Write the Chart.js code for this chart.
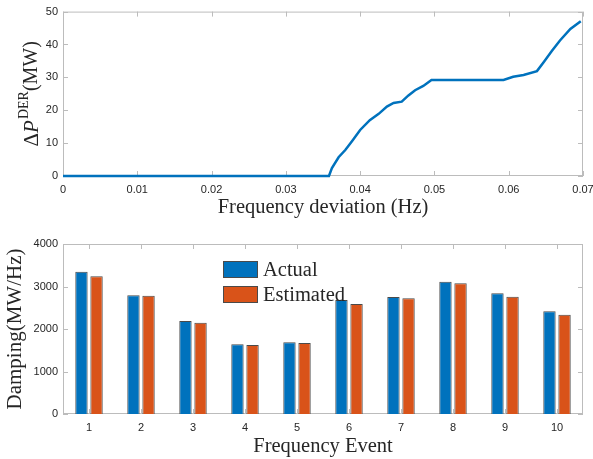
<!DOCTYPE html>
<html>
<head>
<meta charset="utf-8">
<script src="https://cdn.jsdelivr.net/npm/chart.js@4"></script>
<style>
  body { margin: 0; background: #fff; }
  canvas { position: absolute; left: 0; }
  #curveChart { top: 0; }
  #dampingChart { top: 230px; }
</style>
</head>
<body>
<canvas id="curveChart" width="593" height="228"></canvas>
<canvas id="dampingChart" width="593" height="229"></canvas>
<script>
// Top panel: DER power response vs frequency deviation
const freqDev = [0, 0.0358, 0.0362, 0.0371, 0.0380, 0.0389, 0.0400, 0.0413, 0.0425, 0.0436,
                 0.0445, 0.0456, 0.0465, 0.0474, 0.0485, 0.0496, 0.0593, 0.0606, 0.0620,
                 0.0638, 0.0647, 0.0658, 0.0669, 0.0683, 0.0697];
const deltaP = [0, 0, 2.4, 5.7, 7.9, 10.6, 14.0, 17.0, 18.9, 21.1,
                22.2, 22.6, 24.5, 26.1, 27.4, 29.2, 29.2, 30.2, 30.7,
                31.9, 34.6, 38.0, 41.2, 44.7, 47.1];

// Bottom panel: damping per frequency event
const events = ['1', '2', '3', '4', '5', '6', '7', '8', '9', '10'];
const actualDamping = [3348, 2795, 2188, 1639, 1686, 2682, 2753, 3114, 2839, 2416];
const estimatedDamping = [3240, 2784, 2149, 1623, 1670, 2588, 2722, 3075, 2761, 2337];

const SERIF = "'Liberation Serif', 'Times New Roman', serif";
const SANS = "'Liberation Sans', Arial, sans-serif";
const FRAME = '#bcbcbc';
const TEXT = '#262626';

// draw a run of text pieces (different fonts / raised parts) centred on cx,cy
function drawRich(ctx, parts, cx, cy, rotate) {
    ctx.save();
    ctx.translate(cx, cy);
    if (rotate) ctx.rotate(-Math.PI / 2);
    ctx.fillStyle = TEXT;
    ctx.textBaseline = 'middle';
    ctx.textAlign = 'left';
    let total = 0;
    parts.forEach(p => { ctx.font = p.font; total += ctx.measureText(p.text).width + (p.gap || 0); });
    let x = -total / 2;
    parts.forEach(p => {
        ctx.font = p.font;
        ctx.fillText(p.text, x, p.dy || 0);
        x += ctx.measureText(p.text).width + (p.gap || 0);
    });
    ctx.restore();
}

// MATLAB-like box with inward ticks, axis titles and an inside legend
const matlabAxes = {
    id: 'matlabAxes',
    beforeDatasetsDraw(chart, args, opts) {
        const { ctx, chartArea: a, scales } = chart;
        const line = (x1, y1, x2, y2) => { ctx.beginPath(); ctx.moveTo(x1, y1); ctx.lineTo(x2, y2); ctx.stroke(); };
        ctx.save();
        ctx.strokeStyle = FRAME;
        ctx.lineWidth = 1;
        ctx.strokeRect(a.left + 0.5, a.top + 0.5, a.width - 1, a.height - 1);
        scales.x.ticks.forEach((t, i) => {
            const px = Math.round(scales.x.getPixelForTick(i)) + 0.5;
            line(px, a.bottom, px, a.bottom - 5);
            line(px, a.top, px, a.top + 5);
        });
        scales.y.ticks.forEach((t, i) => {
            const py = Math.round(scales.y.getPixelForTick(i)) + 0.5;
            line(a.left, py, a.left + 5, py);
            line(a.right, py, a.right - 5, py);
        });
        ctx.restore();
    },
    afterDraw(chart, args, opts) {
        const { ctx, chartArea: a } = chart;
        if (opts.xTitle) drawRich(ctx, opts.xTitle, (a.left + a.right) / 2, opts.xTitleY, false);
        if (opts.yTitle) drawRich(ctx, opts.yTitle, opts.yTitleX, (a.top + a.bottom) / 2, true);
        if (opts.legend) {
            const lg = opts.legend;
            ctx.save();
            chart.data.datasets.forEach((ds, i) => {
                const y = lg.y + i * lg.step;
                ctx.fillStyle = ds.backgroundColor;
                ctx.fillRect(lg.x, y, lg.w, lg.h);
                ctx.strokeStyle = ds.borderColor;
                ctx.lineWidth = 1;
                ctx.strokeRect(lg.x + 0.5, y + 0.5, lg.w - 1, lg.h - 1);
                ctx.fillStyle = TEXT;
                ctx.font = '20.5px ' + SERIF;
                ctx.textBaseline = 'middle';
                ctx.fillText(ds.label, lg.x + lg.w + 5, y + lg.h / 2 + 1);
            });
            ctx.restore();
        }
    }
};

const tickFont = { family: SANS, size: 11 };

// fixed axis sizes so both plot boxes line up like the original figure
function fixX(height) {
    return s => { s.height = height; s.paddingLeft = 0; s.paddingRight = 0; };
}

new Chart(document.getElementById('curveChart'), {
    type: 'line',
    data: {
        datasets: [{
            data: freqDev.map((f, i) => ({ x: f, y: deltaP[i] })),
            borderColor: '#0072BD',
            borderWidth: 2.5,
            pointRadius: 0,
            tension: 0,
            clip: 4
        }]
    },
    options: {
        responsive: false,
        animation: false,
        layout: { padding: { top: 6, right: 10, left: 0, bottom: 0 } },
        plugins: {
            legend: { display: false },
            tooltip: { enabled: false },
            matlabAxes: {
                xTitle: [{ text: 'Frequency deviation (Hz)', font: '20.5px ' + SERIF }],
                xTitleY: 208,
                yTitle: [
                    { text: 'Δ', font: '21px ' + SERIF },
                    { text: 'P', font: 'italic 21px ' + SERIF, gap: 1 },
                    { text: 'DER', font: '14px ' + SERIF, dy: -8 },
                    { text: '(MW)', font: '20px ' + SERIF }
                ],
                yTitleX: 32
            }
        },
        scales: {
            x: {
                type: 'linear',
                min: 0,
                max: 0.07,
                afterFit: fixX(52),
                grid: { display: false, drawTicks: false },
                border: { display: false },
                ticks: { stepSize: 0.01, padding: 7, color: TEXT, font: tickFont, maxRotation: 0,
                         callback: v => String(+v.toFixed(2)) }
            },
            y: {
                min: 0,
                max: 50,
                afterFit: s => { s.width = 63; },
                grid: { display: false, drawTicks: false },
                border: { display: false },
                ticks: { stepSize: 10, padding: 5, color: TEXT, font: tickFont }
            }
        }
    },
    plugins: [matlabAxes]
});

new Chart(document.getElementById('dampingChart'), {
    type: 'bar',
    data: {
        labels: events,
        datasets: [{
            label: 'Actual',
            data: actualDamping,
            backgroundColor: '#0072BD',
            borderColor: '#4a4a4a',
            borderWidth: 1,
            barPercentage: 0.82,
            categoryPercentage: 0.58
        }, {
            label: 'Estimated',
            data: estimatedDamping,
            backgroundColor: '#D95319',
            borderColor: '#4a4a4a',
            borderWidth: 1,
            barPercentage: 0.82,
            categoryPercentage: 0.58
        }]
    },
    options: {
        responsive: false,
        animation: false,
        layout: { padding: { top: 14, right: 10, left: 0, bottom: 0 } },
        plugins: {
            legend: { display: false },
            tooltip: { enabled: false },
            matlabAxes: {
                xTitle: [{ text: 'Frequency Event', font: '20.5px ' + SERIF }],
                xTitleY: 217,
                yTitle: [{ text: 'Damping(MW/Hz)', font: '21px ' + SERIF }],
                yTitleX: 15,
                legend: { x: 223, y: 31, w: 35, h: 17, step: 25 }
            }
        },
        scales: {
            x: {
                afterFit: fixX(45),
                grid: { display: false, drawTicks: false },
                border: { display: false },
                ticks: { padding: 7, color: TEXT, font: tickFont, maxRotation: 0 }
            },
            y: {
                min: 0,
                max: 4000,
                afterFit: s => { s.width = 63; },
                grid: { display: false, drawTicks: false },
                border: { display: false },
                ticks: { stepSize: 1000, padding: 5, color: TEXT, font: tickFont,
                         callback: v => String(v) }
            }
        }
    },
    plugins: [matlabAxes]
});
</script>
</body>
</html>
